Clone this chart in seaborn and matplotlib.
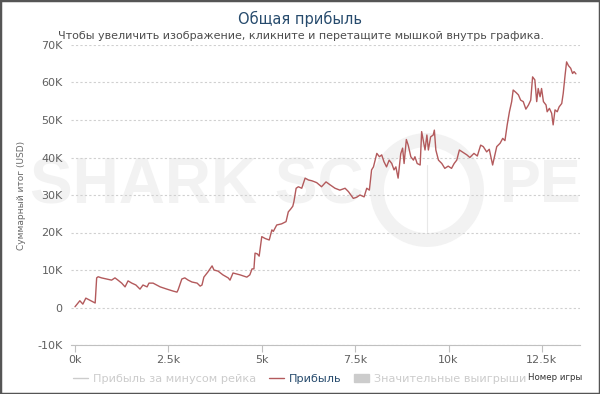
import matplotlib
matplotlib.use("Agg")
import matplotlib.pyplot as plt
from matplotlib.lines import Line2D
from matplotlib.patches import Patch, Circle, Rectangle
import seaborn as sns
import pandas as pd

games = [0, 130, 210, 290, 480, 540, 580, 620, 710, 850, 980, 1070, 1150, 1250, 1340,
         1420, 1520, 1630, 1740, 1820, 1930, 1980, 2090, 2280, 2460, 2620, 2730, 2760,
         2860, 2940, 3030, 3130, 3270, 3350, 3400, 3450, 3560, 3670, 3720, 3830, 3960,
         4100, 4150, 4230, 4420, 4600, 4680, 4740, 4790, 4820, 4880, 4930, 5000, 5090,
         5200, 5270, 5310, 5400, 5530, 5650, 5710, 5770, 5830, 5860, 5920, 5980, 6070,
         6160, 6250, 6340, 6470, 6600, 6720, 6830, 6960, 7090, 7230, 7320, 7450, 7540,
         7630, 7740, 7810, 7880, 7940, 7990, 8080, 8150, 8210, 8270, 8340, 8410, 8480,
         8540, 8590, 8650, 8720, 8770, 8810, 8870, 8920, 8990, 9060, 9100, 9160, 9240,
         9280, 9320, 9370, 9420, 9460, 9520, 9590, 9620, 9660, 9730, 9820, 9900, 9990,
         10080, 10150, 10220, 10290, 10400, 10490, 10570, 10680, 10770, 10860, 10930,
         11020, 11090, 11180, 11290, 11380, 11450, 11510, 11570, 11630, 11690, 11730,
         11810, 11870, 11930, 12000, 12070, 12140, 12200, 12250, 12310, 12360, 12400,
         12450, 12490, 12540, 12610, 12640, 12700, 12760, 12800, 12850, 12910, 12960,
         13030, 13070, 13120, 13160, 13210, 13270, 13320, 13360, 13410]

profit_k = [0.2, 1.8, 0.9, 2.5, 1.5, 1.2, 7.9, 8.2, 7.9, 7.6, 7.3, 7.9, 7.3, 6.5, 5.5,
            7.1, 6.5, 6.0, 4.9, 6.0, 5.5, 6.5, 6.5, 5.5, 4.9, 4.4, 4.1, 4.7,
            7.6, 7.9, 7.3, 6.8, 6.5, 5.7, 6.0, 8.1, 9.5, 11.1, 10.0, 9.7, 8.7,
            7.9, 7.3, 9.2, 8.7, 8.1, 8.7, 10.3, 10.3, 14.5, 14.3, 13.7, 18.9, 18.4,
            18.0, 20.7, 20.3, 22.0, 22.3, 22.9, 25.5, 26.2, 27.0, 28.2, 31.8, 32.2, 31.8,
            34.5, 34.0, 33.8, 33.3, 32.2, 33.5, 32.7, 31.8, 31.3, 31.8, 30.9, 29.1, 29.4,
            30.0, 29.5, 31.8, 31.3, 36.7, 37.5, 41.1, 40.2, 40.7, 38.9, 37.5, 39.3, 38.4,
            36.7, 37.5, 34.5, 41.0, 42.5, 38.4, 44.8, 43.3, 40.2, 39.3, 40.2, 38.4, 38.0,
            46.9, 44.7, 42.0, 46.0, 42.0, 45.5, 46.0, 47.3, 42.0, 39.3, 38.4, 37.1, 37.7,
            37.1, 38.4, 39.3, 42.0, 41.3, 40.7, 40.0, 41.1, 40.4, 43.3, 42.9,
            41.5, 42.2, 38.0, 42.9, 43.8, 45.1, 44.5, 48.7, 52.2, 54.9, 58.0,
            57.3, 56.7, 55.3, 54.9, 52.9, 54.0, 55.3, 61.5, 60.7, 54.9, 58.4,
            56.2, 58.4, 54.9, 54.0, 52.2, 53.1, 51.8, 48.7, 52.7, 52.2, 53.5,
            54.4, 57.1, 62.0, 65.5, 64.5, 63.8, 62.4, 62.9, 62.3]

y_ticks = [-10000, 0, 10000, 20000, 30000, 40000, 50000, 60000, 70000]
y_tick_labels = ["-10K", "0", "10K", "20K", "30K", "40K", "50K", "60K", "70K"]
x_ticks = [0, 2500, 5000, 7500, 10000, 12500]
x_tick_labels = ["0k", "2.5k", "5k", "7.5k", "10k", "12.5k"]
legend_labels = ["Прибыль за минусом рейка", "Прибыль", "Значительные выигрыши"]

df = pd.DataFrame({"game": games, "profit": [v * 1000 for v in profit_k]})

sns.set_style("white")
plt.rcParams["font.family"] = ["DejaVu Sans"]

W, H = 600, 394
fig = plt.figure(figsize=(6.0, 3.94), dpi=100)
fig.patch.set_facecolor("white")

# watermark (behind the axes)
wm = "#f2f2f2"
fig.text(30 / W, 1 - 187 / H, "SHARK SC", fontsize=46, fontweight="bold",
         family="Liberation Sans", color=wm, ha="left", va="center", zorder=-5)
fig.text(500 / W, 1 - 187 / H, "PE", fontsize=44, fontweight="bold",
         family="Liberation Sans", color=wm, ha="left", va="center", zorder=-5)
circ = Circle((427, H - 190), 50, transform=None, fill=False, edgecolor=wm,
              linewidth=10, zorder=-5)
fig.patches.append(circ)
fig.lines.append(Line2D([427 / W, 427 / W], [1 - 165 / H, 1 - 232 / H],
                        transform=fig.transFigure, color="#e8e8e8", lw=0.8, zorder=-5))

ax = fig.add_axes([71 / W, 1 - 345 / H, (580 - 71) / W, 300 / H])
ax.set_zorder(1)
ax.patch.set_alpha(0)

sns.lineplot(data=df, x="game", y="profit", ax=ax, color="#b35a5c", lw=1.0)

ax.set_xlim(-107, 13519)
ax.set_ylim(-10000, 70000)
ax.set_yticks(y_ticks)
ax.set_yticklabels(y_tick_labels)
ax.set_xticks(x_ticks)
ax.set_xticklabels(x_tick_labels)
ax.set_xlabel("")
ax.set_ylabel("")
ax.grid(axis="y", color="#d0d0d0", linestyle=(0, (2, 2)), lw=0.8)
ax.grid(axis="x", visible=False)
for s in ["top", "right", "left"]:
    ax.spines[s].set_visible(False)
ax.spines["bottom"].set_color("#c0c0c0")
ax.spines["bottom"].set_linewidth(0.8)
ax.tick_params(axis="y", length=0, pad=6, labelsize=8, labelcolor="#606060")
ax.tick_params(axis="x", length=5, width=0.8, color="#c0c0c0", pad=2,
               labelsize=8, labelcolor="#606060", direction="out", bottom=True)

fig.text(300 / W, 1 - 19 / H, "Общая прибыль", ha="center", va="center",
         fontsize=10.5, color="#274b6d")
fig.text(301 / W, 1 - 36 / H,
         "Чтобы увеличить изображение, кликните и перетащите мышкой внутрь графика.",
         ha="center", va="center", fontsize=8.05, color="#4d4d4d")
fig.text(22 / W, 1 - 195 / H, "Суммарный итог (USD)", rotation=90, ha="center",
         va="center", fontsize=6.5, color="#666666")
fig.text(582 / W, 1 - 378 / H, "Номер игры", ha="right", va="center",
         fontsize=6.2, color="#333333")

handles = [Line2D([], [], color="#cccccc", lw=1),
           Line2D([], [], color="#b35a5c", lw=1),
           Patch(facecolor="#cccccc", edgecolor="#cccccc")]
leg = fig.legend(handles, legend_labels, loc="center", ncol=3,
                 bbox_to_anchor=(300 / W, 1 - 379 / H), frameon=False,
                 fontsize=8.1, handlelength=1.3, handletextpad=0.5,
                 columnspacing=1.1, borderpad=0)
for t, c in zip(leg.get_texts(), ["#cccccc", "#274b6d", "#cccccc"]):
    t.set_color(c)

fig.patches.append(Rectangle((0, 0), 1, 1, transform=fig.transFigure, fill=False,
                             edgecolor="#555555", linewidth=2.5, zorder=10))

fig.savefig("out.png", dpi=100)
